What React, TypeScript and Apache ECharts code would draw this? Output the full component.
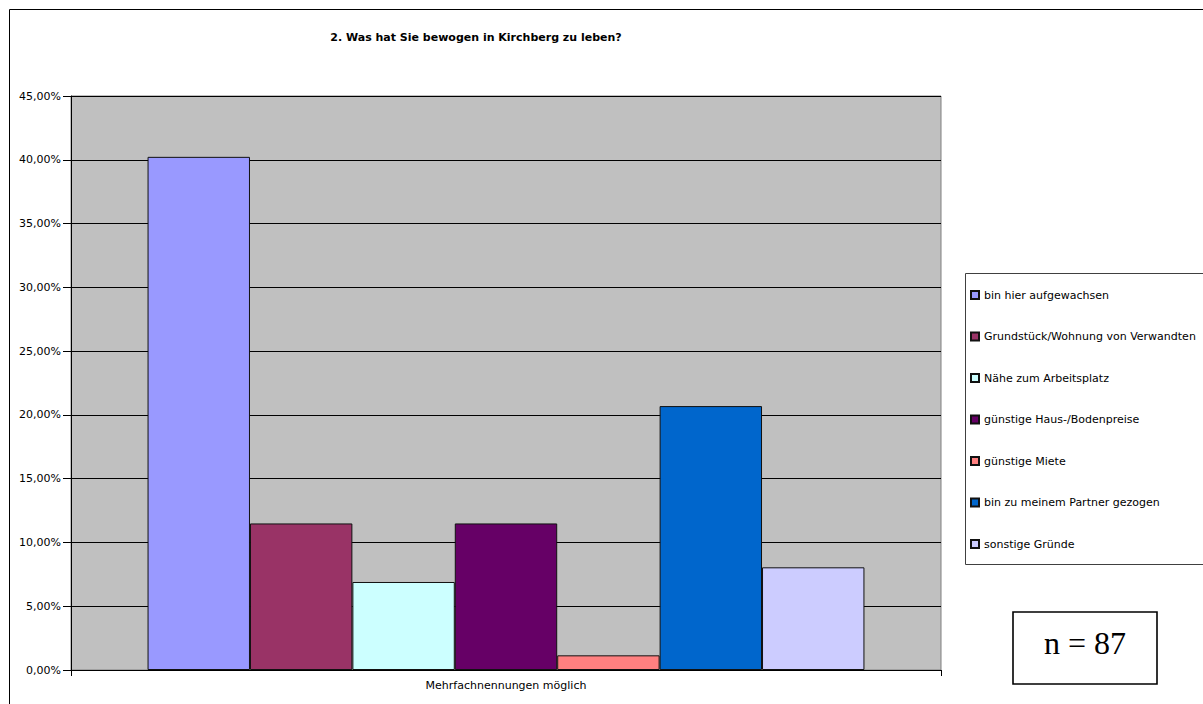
import React, { useEffect, useRef } from "react";
import * as echarts from "echarts";

// Survey question: reasons for living in Kirchberg (multiple answers allowed, n = 87)
const categories = ["Mehrfachnennungen möglich"];
const reasons = [
  "bin hier aufgewachsen",
  "Grundstück/Wohnung von Verwandten",
  "Nähe zum Arbeitsplatz",
  "günstige Haus-/Bodenpreise",
  "günstige Miete",
  "bin zu meinem Partner gezogen",
  "sonstige Gründe",
];
// share of respondents in percent
const shares = [40.23, 11.49, 6.9, 11.49, 1.15, 20.69, 8.05];
const colors = ["#9999FF", "#993366", "#CCFFFF", "#660066", "#FF8080", "#0066CC", "#CCCCFF"];
const sampleSize = 87;

const FONT = "'DejaVu Sans', Arial, sans-serif";

export default function App() {
  const ref = useRef<HTMLDivElement>(null);

  useEffect(() => {
    if (!ref.current) return;
    const chart = echarts.init(ref.current, null, { renderer: "svg" });

    const series = reasons.map((name, i) => ({
      name,
      type: "bar",
      data: [shares[i]],
      barGap: "0%",
      barCategoryGap: "17.6%",
      itemStyle: { color: colors[i], borderColor: "#111", borderWidth: 1 },
    }));

    chart.setOption({
      animation: false,
      backgroundColor: "#ffffff",
      title: {
        text: "2. Was hat Sie bewogen in Kirchberg zu leben?",
        left: 471,
        top: 27,
        textAlign: "center",
        textStyle: { fontFamily: FONT, fontSize: 11, fontWeight: "bold", color: "#000" },
      },
      grid: {
        left: 71,
        top: 96,
        width: 870,
        height: 574,
        show: true,
        backgroundColor: "#C0C0C0",
        borderColor: "#808080",
        borderWidth: 1,
      },
      legend: {
        orient: "vertical",
        left: 965,
        top: 284,
        itemWidth: 8,
        itemHeight: 8,
        itemGap: 29.5,
        icon: "rect",
        textStyle: { fontFamily: FONT, fontSize: 11, color: "#000", lineHeight: 12 },
        data: reasons,
      },
      xAxis: {
        type: "category",
        data: categories,
        axisLine: { lineStyle: { color: "#000", width: 1 } },
        axisTick: { show: true, length: 6, lineStyle: { color: "#000" } },
        axisLabel: { fontFamily: FONT, fontSize: 11, color: "#000", margin: 10 },
      },
      yAxis: {
        type: "value",
        min: 0,
        max: 45,
        interval: 5,
        axisLine: { show: true, lineStyle: { color: "#000", width: 1 } },
        axisTick: { show: true, length: 8, lineStyle: { color: "#000" } },
        axisLabel: {
          fontFamily: FONT,
          fontSize: 11,
          color: "#000",
          margin: 10,
          formatter: (v: number) => v.toFixed(2).replace(".", ",") + "%",
        },
        splitLine: { show: true, lineStyle: { color: "#000", width: 1 } },
      },
      series,
      graphic: [
        {
          type: "rect",
          silent: true,
          z: -10,
          shape: { x: 9.5, y: 9.5, width: 1210, height: 710 },
          style: { fill: "none", stroke: "#000", lineWidth: 1 },
        },
        {
          type: "rect",
          silent: true,
          shape: { x: 965.5, y: 273.5, width: 260, height: 291 },
          style: { fill: "#fff", stroke: "#404040", lineWidth: 1 },
          z: -1,
        },
        {
          type: "rect",
          silent: true,
          shape: { x: 1013, y: 612, width: 144, height: 72 },
          style: { fill: "#fff", stroke: "#000", lineWidth: 1.6 },
        },
        {
          type: "text",
          silent: true,
          x: 1085,
          y: 643,
          style: {
            text: "n = " + sampleSize,
            fontFamily: "'Liberation Serif', 'Times New Roman', serif",
            fontSize: 32,
            fill: "#000",
            textAlign: "center",
            textVerticalAlign: "middle",
          },
        },
      ],
    });

    return () => chart.dispose();
  }, []);

  return (
    <div
      ref={ref}
      style={{ position: "fixed", left: 0, top: 0, width: 1203, height: 704 }}
    />
  );
}
